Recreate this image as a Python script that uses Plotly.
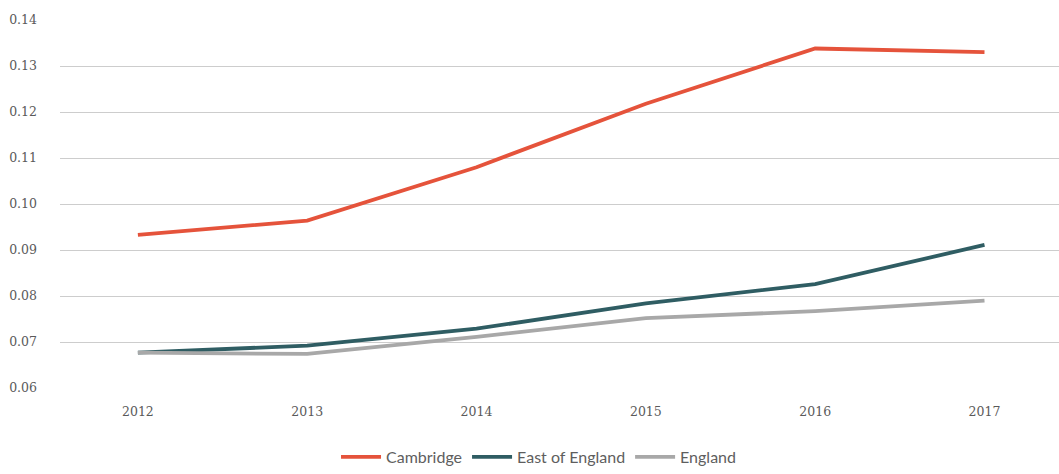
import plotly.graph_objects as go

years = ["2012", "2013", "2014", "2015", "2016", "2017"]
cambridge = [0.0933, 0.0964, 0.1080, 0.1218, 0.1338, 0.1330]
east_of_england = [0.0677, 0.0692, 0.0729, 0.0784, 0.0826, 0.0911]
england = [0.0677, 0.0674, 0.0711, 0.0752, 0.0767, 0.0790]

series = [
    ("Cambridge", cambridge, "#E5533B"),
    ("East of England", east_of_england, "#2F5D63"),
    ("England", england, "#A8A8A8"),
]

fig = go.Figure()
for name, vals, color in series:
    fig.add_trace(go.Scatter(
        x=list(range(len(years))), y=vals, name=name, mode="lines",
        line=dict(color=color, width=3.8),
    ))

fig.update_layout(
    width=1059, height=474,
    margin=dict(l=60, r=0, t=20, b=82),
    plot_bgcolor="white", paper_bgcolor="white",
    font=dict(family="DejaVu Serif, serif", size=12.5, color="#5a5a5a"),
    showlegend=True,
    legend=dict(
        orientation="h", x=0.479, xanchor="center", y=-0.188, yanchor="middle",
        font=dict(family="Lato, Open Sans, sans-serif", size=16, color="#5e5e5e"),
        itemwidth=40, tracegroupgap=0,
    ),
)
fig.update_xaxes(
    range=[-0.46, 5.44], tickmode="array", tickvals=list(range(len(years))),
    ticktext=years, showgrid=False, zeroline=False, showline=False,
    ticks="", ticklabelstandoff=14,
)
fig.update_yaxes(
    range=[0.06, 0.14], dtick=0.01, tick0=0.06, tickformat=".2f",
    showgrid=True, gridcolor="#cdcdcd", gridwidth=1.2, zeroline=False,
    showline=False, ticks="", ticklabelstandoff=22,
)

fig.write_html("out.html")
